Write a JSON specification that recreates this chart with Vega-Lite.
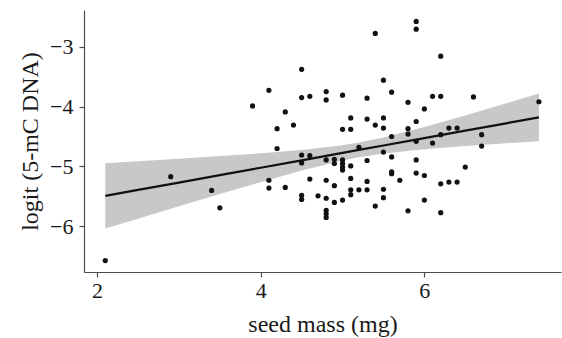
{
  "$schema": "https://vega.github.io/schema/vega-lite/v6.json",
  "width": 477,
  "height": 262,
  "autosize": "none",
  "padding": {"left": 84, "top": 10, "right": 1, "bottom": 66},
  "background": "white",
  "config": {
    "view": {"stroke": null},
    "font": "Liberation Serif",
    "axis": {
      "grid": false,
      "domainColor": "#4d4d4d",
      "domainWidth": 1.2,
      "tickColor": "#4d4d4d",
      "tickWidth": 1.2,
      "tickSize": 5,
      "labelFont": "Liberation Serif",
      "labelFontSize": 22,
      "labelColor": "#1a1a1a",
      "titleFont": "Liberation Serif",
      "titleFontSize": 24,
      "titleFontWeight": "normal",
      "titleColor": "#1a1a1a"
    }
  },
  "datasets": {
    "pts": [
      {"mass": 2.1, "logit": -6.57}, {"mass": 2.9, "logit": -5.17}, {"mass": 3.4, "logit": -5.40}, {"mass": 3.5, "logit": -5.69},
      {"mass": 3.9, "logit": -3.99}, {"mass": 4.1, "logit": -3.73}, {"mass": 4.1, "logit": -5.23}, {"mass": 4.1, "logit": -5.36},
      {"mass": 4.2, "logit": -4.37}, {"mass": 4.2, "logit": -4.70}, {"mass": 4.3, "logit": -4.09}, {"mass": 4.3, "logit": -5.35},
      {"mass": 4.4, "logit": -4.31}, {"mass": 4.5, "logit": -3.38}, {"mass": 4.5, "logit": -3.85}, {"mass": 4.5, "logit": -4.81},
      {"mass": 4.5, "logit": -4.94}, {"mass": 4.5, "logit": -5.48}, {"mass": 4.5, "logit": -5.55}, {"mass": 4.6, "logit": -3.83},
      {"mass": 4.6, "logit": -4.82}, {"mass": 4.6, "logit": -5.21}, {"mass": 4.7, "logit": -5.49}, {"mass": 4.8, "logit": -3.75},
      {"mass": 4.8, "logit": -3.89}, {"mass": 4.8, "logit": -4.89}, {"mass": 4.8, "logit": -5.23}, {"mass": 4.8, "logit": -5.53},
      {"mass": 4.8, "logit": -5.73}, {"mass": 4.8, "logit": -5.79}, {"mass": 4.8, "logit": -5.85}, {"mass": 4.9, "logit": -4.88},
      {"mass": 4.9, "logit": -4.95}, {"mass": 4.9, "logit": -5.32}, {"mass": 4.9, "logit": -5.60}, {"mass": 5.0, "logit": -3.81},
      {"mass": 5.0, "logit": -4.38}, {"mass": 5.0, "logit": -4.89}, {"mass": 5.0, "logit": -4.95}, {"mass": 5.0, "logit": -5.01},
      {"mass": 5.0, "logit": -5.06}, {"mass": 5.0, "logit": -5.56}, {"mass": 5.1, "logit": -4.19}, {"mass": 5.1, "logit": -4.38},
      {"mass": 5.1, "logit": -4.99}, {"mass": 5.1, "logit": -5.20}, {"mass": 5.1, "logit": -5.39}, {"mass": 5.1, "logit": -5.47},
      {"mass": 5.2, "logit": -4.68}, {"mass": 5.2, "logit": -5.39}, {"mass": 5.3, "logit": -3.86}, {"mass": 5.3, "logit": -4.21},
      {"mass": 5.3, "logit": -4.90}, {"mass": 5.3, "logit": -5.25}, {"mass": 5.3, "logit": -5.39}, {"mass": 5.4, "logit": -2.78},
      {"mass": 5.4, "logit": -4.31}, {"mass": 5.4, "logit": -5.66}, {"mass": 5.5, "logit": -3.56}, {"mass": 5.5, "logit": -4.19},
      {"mass": 5.5, "logit": -4.36}, {"mass": 5.5, "logit": -4.76}, {"mass": 5.5, "logit": -5.38}, {"mass": 5.5, "logit": -5.52},
      {"mass": 5.6, "logit": -3.76}, {"mass": 5.6, "logit": -4.50}, {"mass": 5.6, "logit": -4.84}, {"mass": 5.6, "logit": -5.09},
      {"mass": 5.6, "logit": -5.12}, {"mass": 5.7, "logit": -5.23}, {"mass": 5.8, "logit": -3.93}, {"mass": 5.8, "logit": -4.37},
      {"mass": 5.8, "logit": -4.46}, {"mass": 5.8, "logit": -5.74}, {"mass": 5.9, "logit": -2.58}, {"mass": 5.9, "logit": -2.71},
      {"mass": 5.9, "logit": -4.25}, {"mass": 5.9, "logit": -4.58}, {"mass": 5.9, "logit": -4.89}, {"mass": 5.9, "logit": -5.11},
      {"mass": 6.0, "logit": -4.04}, {"mass": 6.0, "logit": -5.15}, {"mass": 6.0, "logit": -5.56}, {"mass": 6.1, "logit": -3.83},
      {"mass": 6.1, "logit": -4.61}, {"mass": 6.2, "logit": -3.16}, {"mass": 6.2, "logit": -3.83}, {"mass": 6.2, "logit": -4.47},
      {"mass": 6.2, "logit": -5.29}, {"mass": 6.2, "logit": -5.77}, {"mass": 6.3, "logit": -4.36}, {"mass": 6.3, "logit": -5.26},
      {"mass": 6.4, "logit": -4.36}, {"mass": 6.4, "logit": -5.26}, {"mass": 6.5, "logit": -5.01}, {"mass": 6.6, "logit": -3.84},
      {"mass": 6.7, "logit": -4.47}, {"mass": 6.7, "logit": -4.66}, {"mass": 7.4, "logit": -3.92}
    ],
    "fit": [
      {"mass": 2.1, "fit": -5.490, "lo": -6.035, "hi": -4.945},
      {"mass": 2.5, "fit": -5.391, "lo": -5.871, "hi": -4.911},
      {"mass": 3.0, "fit": -5.268, "lo": -5.665, "hi": -4.871},
      {"mass": 3.5, "fit": -5.144, "lo": -5.461, "hi": -4.827},
      {"mass": 4.0, "fit": -5.021, "lo": -5.261, "hi": -4.781},
      {"mass": 4.5, "fit": -4.897, "lo": -5.069, "hi": -4.725},
      {"mass": 5.0, "fit": -4.774, "lo": -4.901, "hi": -4.647},
      {"mass": 5.2, "fit": -4.724, "lo": -4.846, "hi": -4.602},
      {"mass": 5.5, "fit": -4.650, "lo": -4.783, "hi": -4.517},
      {"mass": 6.0, "fit": -4.527, "lo": -4.711, "hi": -4.343},
      {"mass": 6.5, "fit": -4.403, "lo": -4.658, "hi": -4.148},
      {"mass": 7.0, "fit": -4.280, "lo": -4.613, "hi": -3.947},
      {"mass": 7.4, "fit": -4.181, "lo": -4.578, "hi": -3.784}
    ]
  },
  "layer": [
    {
      "data": {"name": "fit"},
      "mark": {"type": "area", "color": "#c8c8c8", "opacity": 1},
      "encoding": {
        "x": {"field": "mass", "type": "quantitative", "scale": {"domain": [1.84, 7.67], "nice": false, "zero": false},
              "axis": {"values": [2, 4, 6], "format": "d", "title": "seed mass (mg)", "labelPadding": 3, "titleY": 59, "titleBaseline": "alphabetic"}},
        "y": {"field": "lo", "type": "quantitative", "scale": {"domain": [-6.76, -2.39], "nice": false, "zero": false},
              "axis": {"values": [-6, -5, -4, -3], "format": "d", "title": "logit (5-mC DNA)", "labelPadding": 6, "titleX": -47, "titleY": 131, "titleAngle": -90, "titleAlign": "center", "titleBaseline": "alphabetic"}},
        "y2": {"field": "hi"}
      }
    },
    {
      "data": {"name": "fit"},
      "mark": {"type": "line", "color": "#111111", "strokeWidth": 2.2},
      "encoding": {
        "x": {"field": "mass", "type": "quantitative"},
        "y": {"field": "fit", "type": "quantitative"}
      }
    },
    {
      "data": {"name": "pts"},
      "mark": {"type": "circle", "color": "#111111", "opacity": 1, "size": 27},
      "encoding": {
        "x": {"field": "mass", "type": "quantitative"},
        "y": {"field": "logit", "type": "quantitative"}
      }
    }
  ]
}
